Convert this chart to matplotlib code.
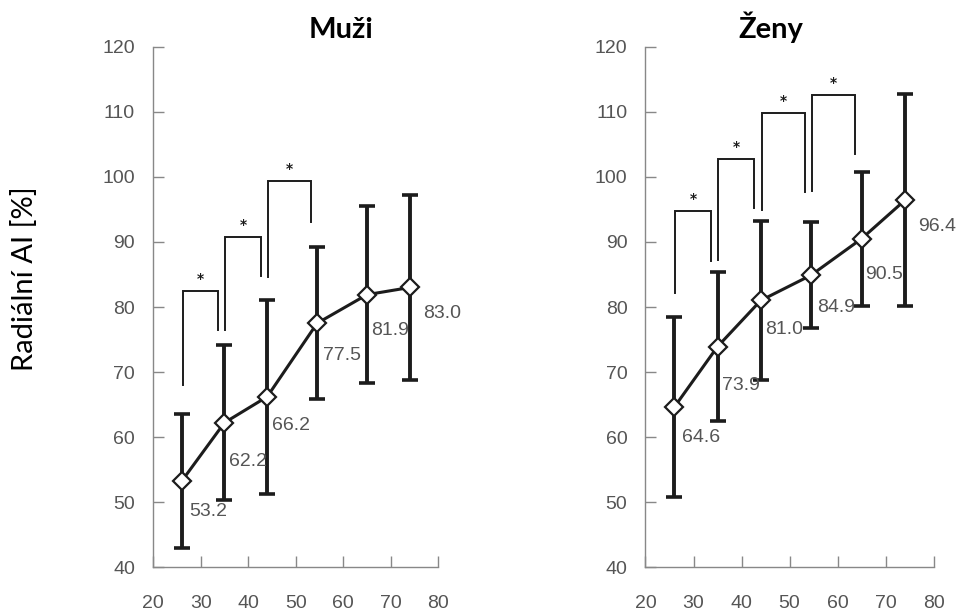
import matplotlib.pyplot as plt

# age group centres (x) shared by both panels
ages = [26, 35, 44, 54.5, 65, 74]
x_ticks = [20, 30, 40, 50, 60, 70, 80]
y_ticks = [40, 50, 60, 70, 80, 90, 100, 110, 120]

# men
muzi_mean = [53.2, 62.2, 66.2, 77.5, 81.9, 83.0]
muzi_sd = [10.3, 11.9, 14.9, 11.7, 13.6, 14.3]
muzi_labels = ["53.2", "62.2", "66.2", "77.5", "81.9", "83.0"]
# significance brackets: (left leg base, top, right leg base)
muzi_brackets = [(68.0, 82.4, 76.4), (76.4, 90.8, 84.8), (84.6, 99.4, 93.0)]

# women
zeny_mean = [64.6, 73.9, 81.0, 84.9, 90.5, 96.4]
zeny_sd = [13.9, 11.5, 12.3, 8.2, 10.3, 16.3]
zeny_labels = ["64.6", "73.9", "81.0", "84.9", "90.5", "96.4"]
zeny_brackets = [(82.1, 94.7, 87.0), (87.2, 102.7, 95.2),
                 (94.9, 109.8, 97.7), (97.9, 112.6, 103.5)]

# where the value labels sit relative to each point (same in both panels)
LABEL_DX = [1.5, 0.9, 1.0, 1.2, 0.8, 2.8]
LABEL_DY = [-4.7, -6.0, -4.5, -5.0, -5.5, -4.0]

INK = "#1c1c1c"
GREY = "#555555"

fig = plt.figure(figsize=(9.57, 6.14), dpi=100)
ax_m = fig.add_axes([0.160, 0.0765, 0.298, 0.847])
ax_z = fig.add_axes([0.6745, 0.0765, 0.301, 0.847])


def draw_panel(ax, mean, sd, labels, brackets):
    ax.errorbar(ages, mean, yerr=sd, fmt="none", ecolor=INK, elinewidth=2.8,
                capsize=6, capthick=2.6, zorder=2)
    ax.plot(ages, mean, "-", color=INK, lw=2.2, marker="D", ms=9.5,
            mfc="white", mec=INK, mew=1.6, zorder=3)

    for i, (x, y, txt) in enumerate(zip(ages, mean, labels)):
        ax.text(x + LABEL_DX[i], y + LABEL_DY[i], txt, ha="left", va="center",
                fontsize=14, color=GREY, family="Liberation Sans")

    for i, (b_left, b_top, b_right) in enumerate(brackets):
        xl = ages[i] + 0.2
        xr = ages[i + 1] - 1.3
        ax.plot([xl, xl, xr, xr], [b_left, b_top, b_top, b_right],
                color=INK, lw=1.4, solid_joinstyle="miter", zorder=1)
        ax.text((xl + xr) / 2, b_top + 0.8, "*", ha="center", va="bottom",
                fontsize=10, fontweight="bold", color=INK)

    ax.set_xlim(20, 80)
    ax.set_ylim(40, 120)
    ax.set_xticks(x_ticks)
    ax.set_yticks(y_ticks)
    for side in ["top", "right"]:
        ax.spines[side].set_visible(False)
    for side in ["left", "bottom"]:
        ax.spines[side].set_color("#888888")
        ax.spines[side].set_linewidth(1.0)
    ax.tick_params(direction="in", length=8, width=1, color="#888888",
                   labelcolor=GREY, labelsize=14)
    ax.tick_params(axis="y", pad=13)
    ax.tick_params(axis="x", pad=20)
    for lab in ax.get_xticklabels() + ax.get_yticklabels():
        lab.set_family("Liberation Sans")


draw_panel(ax_m, muzi_mean, muzi_sd, muzi_labels, muzi_brackets)
draw_panel(ax_z, zeny_mean, zeny_sd, zeny_labels, zeny_brackets)

fig.text(0.356, 0.938, "Muži", ha="center", va="baseline", fontsize=21,
         fontweight="bold", family="Lato", color="black")
fig.text(0.8055, 0.938, "Ženy", ha="center", va="baseline", fontsize=21,
         fontweight="bold", family="Lato", color="black")
fig.text(0.026, 0.5456, "Radiální AI [%]", rotation=90, ha="center",
         va="center", fontsize=21, family="Lato", color="black")

fig.savefig("out.png", dpi=100)
